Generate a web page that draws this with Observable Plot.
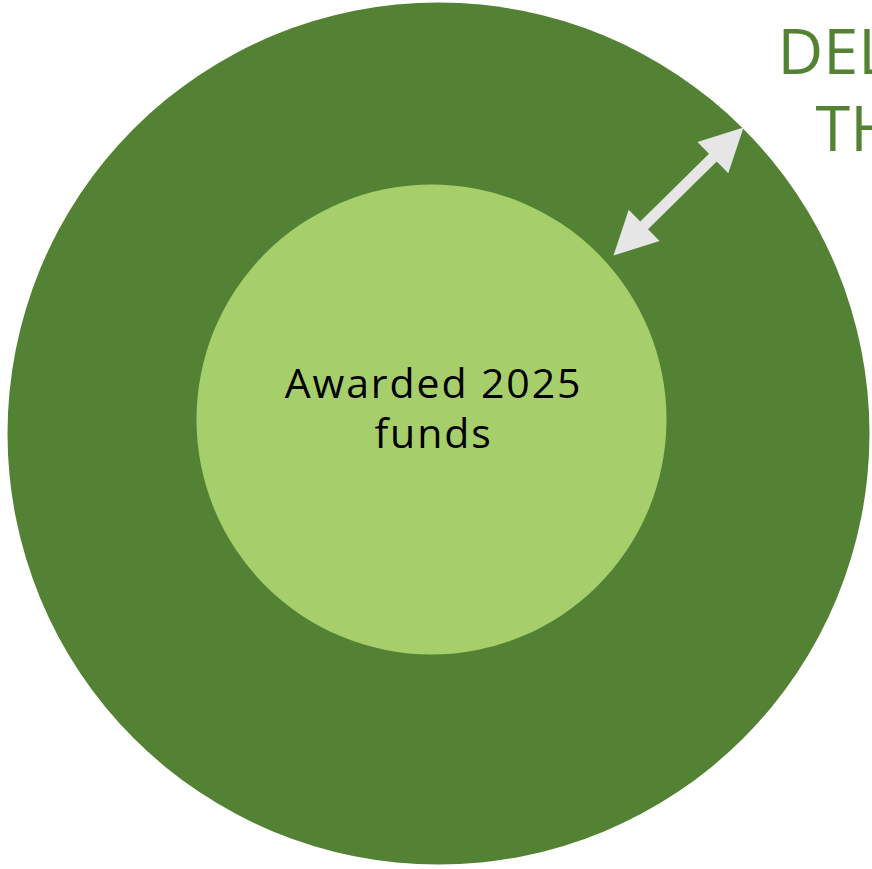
<!DOCTYPE html>
<html>
<head>
<meta charset="utf-8">
<script src="https://cdn.jsdelivr.net/npm/d3@7"></script>
<script src="https://cdn.jsdelivr.net/npm/@observablehq/plot@0.6"></script>
<style>
  html, body { margin: 0; padding: 0; background: #ffffff; overflow: hidden; }
  svg { display: block; }
</style>
</head>
<body>
<div id="chart"></div>
<script>
// Circles (concept diagram): outer = total envelope, inner = awarded 2025 funds
const circleNames = ["Total", "Awarded 2025 funds"];
const circleX = [438, 431];
const circleY = [433, 419];
const circleR = [431, 235];
const circleColors = ["#548235", "#a6cf6b"];

// Centre label, one entry per line
const labelLines = ["Awarded 2025", "funds"];
const labelX = [433, 433];
const labelY = [397, 447];

// Double-headed arrow endpoints (from inner edge to outer edge)
const arrowFrom = [613, 255];
const arrowTo = [743, 127];

// Title fragments visible at top right
const titleLines = ["DEL", "TH"];
const titleX = [777, 815];
const titleY = [73, 150];

const circles = circleNames.map((name, i) => ({name, x: circleX[i], y: circleY[i], r: circleR[i], color: circleColors[i]}));
const labels = labelLines.map((t, i) => ({t, x: labelX[i], y: labelY[i]}));
const titles = titleLines.map((t, i) => ({t, x: titleX[i], y: titleY[i]}));

// Build the arrow polygon from its two endpoints
function arrowPolygon(a, b, shaftHalf, headLen, headHalf) {
  const dx = b[0] - a[0], dy = b[1] - a[1];
  const L = Math.hypot(dx, dy);
  const ux = dx / L, uy = dy / L;
  const px = -uy, py = ux;
  const P = (t, s) => [a[0] + ux * t + px * s, a[1] + uy * t + py * s];
  const pts = [
    P(0, 0),
    P(headLen, headHalf),
    P(headLen, shaftHalf),
    P(L - headLen, shaftHalf),
    P(L - headLen, headHalf),
    P(L, 0),
    P(L - headLen, -headHalf),
    P(L - headLen, -shaftHalf),
    P(headLen, -shaftHalf),
    P(headLen, -headHalf),
    P(0, 0)
  ];
  return pts.map(([x, y]) => ({x, y}));
}
const arrowPts = arrowPolygon(arrowFrom, arrowTo, 5.5, 43, 22);

const chart = Plot.plot({
  width: 872,
  height: 869,
  margin: 0,
  x: {domain: [0, 872], range: [0, 872], axis: null},
  y: {domain: [0, 869], range: [0, 869], axis: null},
  r: {type: "identity"},
  style: {background: "#ffffff"},
  marks: [
    Plot.dot(circles, {x: "x", y: "y", r: "r", fill: "color", stroke: null}),
    Plot.line(arrowPts, {x: "x", y: "y", fill: "#e6e6e6", stroke: null, curve: "linear"}),
    Plot.text(labels, {
      x: "x", y: "y", text: "t",
      fontSize: 41, fill: "#000000",
      fontFamily: "Open Sans", textAnchor: "middle", lineAnchor: "bottom"
    }),
    Plot.text(titles, {
      x: "x", y: "y", text: "t",
      fontSize: 63, fill: "#548235", fontFamily: "Open Sans",
      textAnchor: "start", lineAnchor: "bottom", fontWeight: 400
    })
  ]
});
// Wider letter spacing on the centre label to match the geometric reference face
d3.select(chart).selectAll("text").filter(function () {
  return this.textContent === "Awarded 2025" || this.textContent === "funds";
}).style("letter-spacing", "1.9px");
document.getElementById("chart").appendChild(chart);
</script>
</body>
</html>
